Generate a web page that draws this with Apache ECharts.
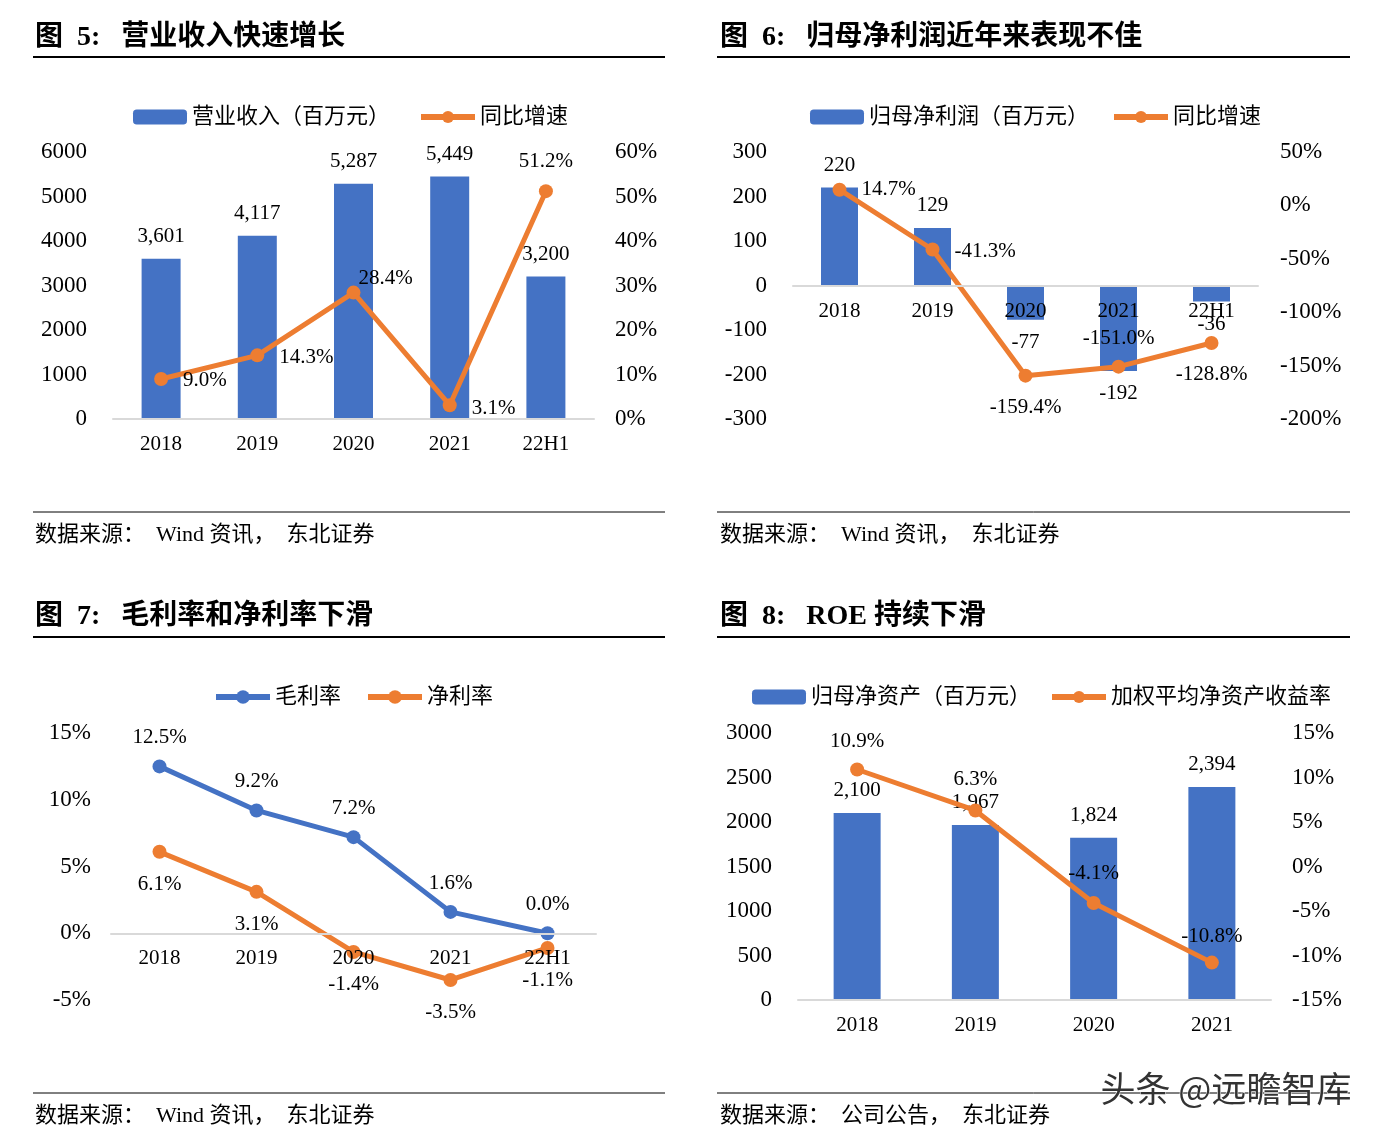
<!DOCTYPE html>
<html><head><meta charset="utf-8">
<script src="https://cdn.jsdelivr.net/npm/echarts@6/dist/echarts.min.js"></script>
<style>html,body{margin:0;padding:0;background:#fff}#c{width:1387px;height:1139px}</style>
</head><body><div id="c"></div>
<script>
// ---------- data ----------
const years5 = ['2018', '2019', '2020', '2021', '22H1'];
const years4 = ['2018', '2019', '2020', '2021'];
const revenue = [3601, 4117, 5287, 5449, 3200];
const revenueGrowth = [9.0, 14.3, 28.4, 3.1, 51.2];
const netProfit = [220, 129, -77, -192, -36];
const netProfitGrowth = [14.7, -41.3, -159.4, -151.0, -128.8];
const grossMargin = [12.5, 9.2, 7.2, 1.6, 0.0];
const netMargin = [6.1, 3.1, -1.4, -3.5, -1.1];
const netAssets = [2100, 1967, 1824, 2394];
const roe = [10.9, 6.3, -4.1, -10.8];

// ---------- styles ----------
const F = '"Liberation Serif","Times New Roman","Noto Sans CJK SC",serif';
const BLUE = '#4472C4', ORANGE = '#ED7D31';
const thou = v => Number(v).toLocaleString('en-US');
const pct = v => Number(v).toFixed(1) + '%';

const catAxis = (gridIndex, data, offset) => ({
  type: 'category', gridIndex, data, offset: offset || 0, z: 6,
  axisLine: { onZero: false, lineStyle: { color: '#D9D9D9', width: 2 } },
  axisTick: { show: false },
  axisLabel: { fontFamily: F, fontSize: 21, color: '#000', margin: 15 }
});
const valAxis = (gridIndex, min, max, interval, position, margin, suffix) => ({
  type: 'value', gridIndex, min, max, interval, position,
  splitLine: { show: false }, axisLine: { show: false }, axisTick: { show: false },
  axisLabel: { fontFamily: F, fontSize: 23, color: '#000', margin, formatter: v => String(v) + (suffix || '') }
});
const lbl = (position, distance, offset) => ({ show: true, position, distance, offset: offset || [0, 0] });
const withLabels = (vals, labs) => vals.map((v, i) => ({ value: v, label: labs[i] }));
const lineStyle = c => ({
  type: 'line', symbol: 'circle', symbolSize: 14, z: 5,
  itemStyle: { color: c }, lineStyle: { color: c, width: 5 },
  label: { show: true, fontFamily: F, fontSize: 21, color: '#000', formatter: p => pct(p.value) }
});

const legendBase = {
  padding: 0, itemWidth: 54, itemHeight: 15, itemGap: 30,
  lineStyle: { width: 6 },
  textStyle: { fontFamily: F, fontSize: 22, color: '#000' }
};

const option = {
  animation: false,
  backgroundColor: '#fff',
  grid: [
    { left: 113, top: 152, width: 481, height: 267 },
    { left: 793, top: 152, width: 465, height: 267 },
    { left: 111, top: 733, width: 485, height: 267 },
    { left: 798, top: 733, width: 473, height: 267 }
  ],
  xAxis: [
    catAxis(0, years5),
    catAxis(1, years5, -133.5),
    catAxis(2, years5, -66.75),
    catAxis(3, years4)
  ],
  yAxis: [
    valAxis(0, 0, 6000, 1000, 'left', 26),
    valAxis(0, 0, 60, 10, 'right', 21, '%'),
    valAxis(1, -300, 300, 100, 'left', 26),
    valAxis(1, -200, 50, 50, 'right', 22, '%'),
    valAxis(2, -5, 15, 5, 'left', 20, '%'),
    valAxis(3, 0, 3000, 500, 'left', 26),
    valAxis(3, -15, 15, 5, 'right', 21, '%')
  ],
  legend: [
    Object.assign({}, legendBase, { data: ['营业收入（百万元）', '同比增速'], left: 133, top: 106, itemGap: 28 }),
    Object.assign({}, legendBase, { data: ['归母净利润（百万元）', '同比增速'], left: 810, top: 106, itemGap: 22 }),
    Object.assign({}, legendBase, { data: ['毛利率', '净利率'], left: 213, top: 686, itemHeight: 17, itemGap: 24 }),
    Object.assign({}, legendBase, { data: ['归母净资产（百万元）', '加权平均净资产收益率'], left: 752, top: 686, itemGap: 18 })
  ],
  series: [
    {
      name: '营业收入（百万元）', type: 'bar', xAxisIndex: 0, yAxisIndex: 0, barWidth: 39,
      itemStyle: { color: BLUE }, data: revenue,
      label: { show: true, position: 'top', distance: 12, fontFamily: F, fontSize: 21, color: '#000', formatter: p => thou(p.value) }
    },
    Object.assign(lineStyle(ORANGE), {
      name: '同比增速', xAxisIndex: 0, yAxisIndex: 1,
      data: withLabels(revenueGrowth, [
        lbl('right', 15, [0, 2]), lbl('right', 15, [0, 2]), lbl('right', -2, [0, -14]),
        lbl('right', 15, [0, 3]), lbl('top', 12)
      ])
    }),
    {
      name: '归母净利润（百万元）', type: 'bar', xAxisIndex: 1, yAxisIndex: 2, barWidth: 37,
      itemStyle: { color: BLUE },
      data: withLabels(netProfit, netProfit.map(v => ({ position: v >= 0 ? 'top' : 'bottom' }))),
      label: { show: true, distance: 12, fontFamily: F, fontSize: 21, color: '#000', formatter: p => thou(p.value) }
    },
    Object.assign(lineStyle(ORANGE), {
      name: '同比增速', xAxisIndex: 1, yAxisIndex: 3,
      data: withLabels(netProfitGrowth, [
        lbl('right', 15), lbl('right', 15, [0, 2]), lbl('bottom', 14),
        lbl('top', 11), lbl('bottom', 14)
      ])
    }),
    Object.assign(lineStyle(BLUE), {
      name: '毛利率', xAxisIndex: 2, yAxisIndex: 4,
      data: withLabels(grossMargin, grossMargin.map(() => lbl('top', 11)))
    }),
    Object.assign(lineStyle(ORANGE), {
      name: '净利率', xAxisIndex: 2, yAxisIndex: 4,
      data: withLabels(netMargin, netMargin.map(() => lbl('bottom', 15)))
    }),
    {
      name: '归母净资产（百万元）', type: 'bar', xAxisIndex: 3, yAxisIndex: 5, barWidth: 47,
      itemStyle: { color: BLUE }, data: netAssets,
      label: { show: true, position: 'top', distance: 12, fontFamily: F, fontSize: 21, color: '#000', formatter: p => thou(p.value) }
    },
    Object.assign(lineStyle(ORANGE), {
      name: '加权平均净资产收益率', xAxisIndex: 3, yAxisIndex: 6,
      data: withLabels(roe, [lbl('top', 11), lbl('top', 13), lbl('top', 12), lbl('top', 9)])
    })
  ],
  graphic: [
    { type: 'text', left: 35, top: 24, style: { text: '图  5:   营业收入快速增长', font: 'bold 28px ' + F, fill: '#000' } },
    { type: 'text', left: 720, top: 24, style: { text: '图  6:   归母净利润近年来表现不佳', font: 'bold 28px ' + F, fill: '#000' } },
    { type: 'text', left: 35, top: 603, style: { text: '图  7:   毛利率和净利率下滑', font: 'bold 28px ' + F, fill: '#000' } },
    { type: 'text', left: 720, top: 603, style: { text: '图  8:   ROE 持续下滑', font: 'bold 28px ' + F, fill: '#000' } },
    { type: 'line', shape: { x1: 33, y1: 57, x2: 665, y2: 57 }, style: { stroke: '#000', lineWidth: 2 } },
    { type: 'line', shape: { x1: 717, y1: 57, x2: 1350, y2: 57 }, style: { stroke: '#000', lineWidth: 2 } },
    { type: 'line', shape: { x1: 33, y1: 637, x2: 665, y2: 637 }, style: { stroke: '#000', lineWidth: 2 } },
    { type: 'line', shape: { x1: 717, y1: 637, x2: 1350, y2: 637 }, style: { stroke: '#000', lineWidth: 2 } },
    { type: 'line', shape: { x1: 33, y1: 512, x2: 665, y2: 512 }, style: { stroke: '#000', lineWidth: 1 } },
    { type: 'line', shape: { x1: 717, y1: 512, x2: 1350, y2: 512 }, style: { stroke: '#000', lineWidth: 1 } },
    { type: 'line', shape: { x1: 33, y1: 1093, x2: 665, y2: 1093 }, style: { stroke: '#000', lineWidth: 1 } },
    { type: 'line', shape: { x1: 717, y1: 1093, x2: 1350, y2: 1093 }, style: { stroke: '#000', lineWidth: 1 } },
    { type: 'text', left: 35, top: 524, style: { text: '数据来源：  Wind 资讯，  东北证券', font: '22px ' + F, fill: '#000' } },
    { type: 'text', left: 720, top: 524, style: { text: '数据来源：  Wind 资讯，  东北证券', font: '22px ' + F, fill: '#000' } },
    { type: 'text', left: 35, top: 1105, style: { text: '数据来源：  Wind 资讯，  东北证券', font: '22px ' + F, fill: '#000' } },
    { type: 'text', left: 720, top: 1105, style: { text: '数据来源：  公司公告，  东北证券', font: '22px ' + F, fill: '#000' } },
    { type: 'text', left: 1100, top: 1071, z: 100, style: { text: '头条 @远瞻智库', font: '35px "Noto Sans CJK SC",sans-serif', fill: '#333', stroke: '#fff', lineWidth: 1 } }
  ]
};
const chart = echarts.init(document.getElementById('c'), null, { renderer: 'canvas' });
chart.setOption(option);
</script>
</body></html>
